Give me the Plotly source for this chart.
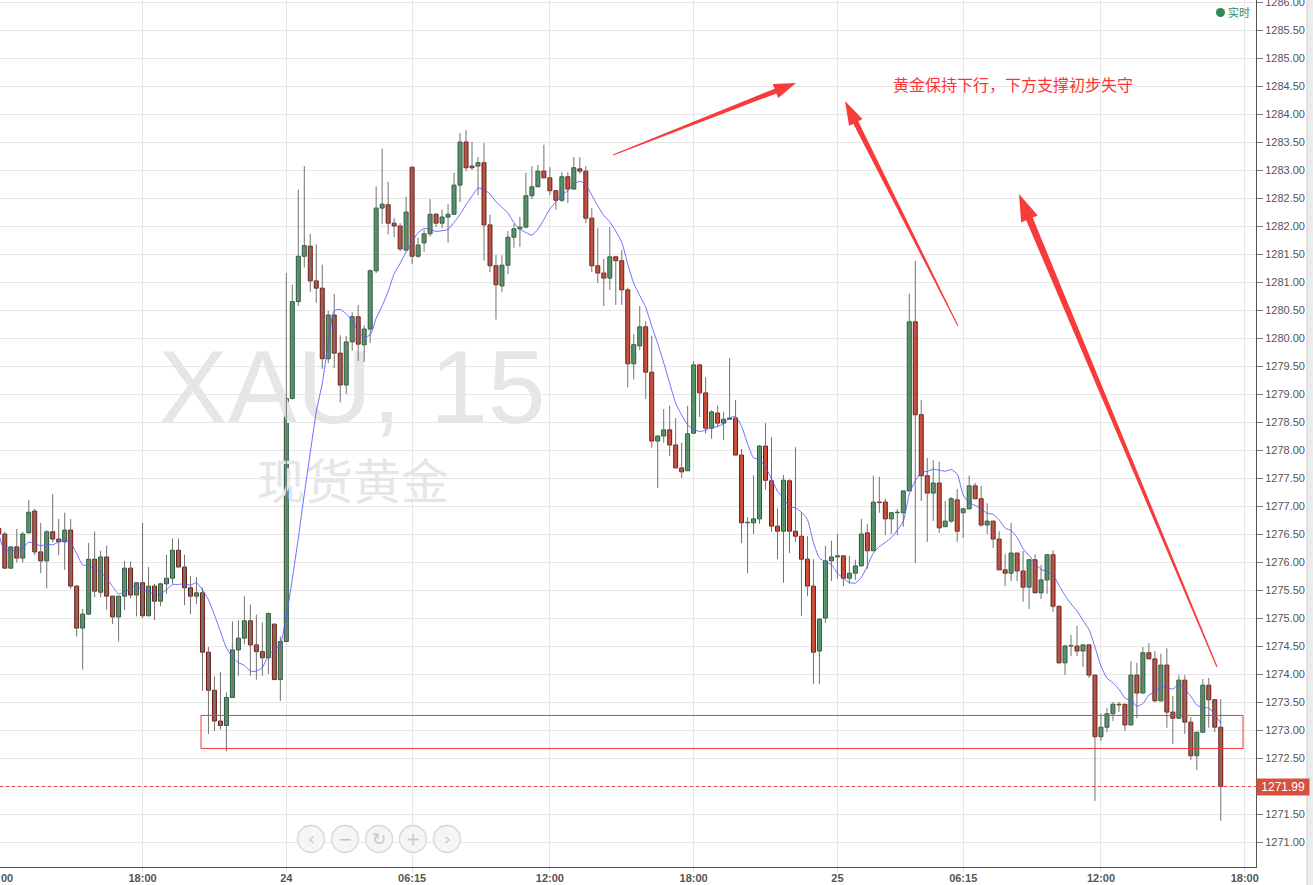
import plotly.graph_objects as go
import pandas as pd

# ---------------- data (15-min XAU candles, index = bar number) ----------------
opens = [
    1276.60, 1276.50, 1275.89, 1276.27, 1276.07, 1276.52, 1276.91, 1276.18, 1276.02, 1276.54,
    1276.41, 1276.36, 1276.57, 1275.57, 1274.82, 1275.07, 1276.05, 1275.46, 1276.09, 1275.39,
    1275.02, 1275.39, 1275.89, 1275.41, 1275.63, 1275.04, 1275.57, 1275.30, 1275.61, 1275.71,
    1276.21, 1275.91, 1275.54, 1275.39, 1275.45, 1274.39, 1273.71, 1273.16, 1273.08, 1273.58,
    1274.43, 1274.64, 1274.95, 1274.52, 1274.40, 1274.29, 1274.89, 1273.90, 1274.58, 1278.92,
    1280.65, 1281.46, 1281.64, 1281.02, 1280.89, 1279.63, 1280.41, 1279.73, 1279.16, 1279.93,
    1280.38, 1279.88, 1280.16, 1281.20, 1282.32, 1282.38, 1282.05, 1282.00, 1281.57, 1283.05,
    1281.46, 1281.70, 1281.86, 1282.21, 1282.05, 1282.16, 1282.21, 1282.73, 1283.50, 1283.07,
    1283.07, 1283.13, 1282.02, 1281.29, 1280.93, 1281.30, 1281.80, 1281.95, 1281.98, 1282.54,
    1282.70, 1282.98, 1282.86, 1282.63, 1282.46, 1282.88, 1282.66, 1283.02, 1282.98, 1282.14,
    1281.29, 1281.16, 1281.07, 1281.45, 1281.38, 1280.86, 1279.54, 1279.86, 1280.20, 1279.39,
    1278.16, 1278.25, 1278.36, 1278.09, 1277.68, 1277.63, 1278.30, 1279.52, 1279.02, 1278.39,
    1278.66, 1278.48, 1278.55, 1278.57, 1277.91, 1276.70, 1276.70, 1276.77, 1278.07, 1277.45,
    1276.64, 1276.55, 1277.45, 1276.55, 1276.46, 1276.05, 1275.57, 1274.41, 1275.00, 1276.02,
    1276.09, 1276.11, 1275.71, 1275.80, 1275.93, 1276.52, 1276.20, 1277.07, 1277.07, 1276.77,
    1276.88, 1276.88, 1277.27, 1280.29, 1278.63, 1277.54, 1277.23, 1277.41, 1276.63, 1276.73,
    1277.11, 1276.88, 1276.95, 1277.36, 1277.13, 1276.66, 1276.73, 1276.41, 1275.86, 1275.80,
    1276.16, 1275.84, 1275.55, 1276.04, 1275.45, 1275.68, 1276.13, 1275.21, 1274.20, 1274.50,
    1274.50, 1274.41, 1274.52, 1273.98, 1272.88, 1273.05, 1273.29, 1273.46, 1273.46, 1273.09,
    1273.98, 1273.66, 1274.38, 1274.27, 1273.52, 1274.16, 1273.32, 1273.21, 1273.89, 1273.14,
    1272.54, 1272.96, 1273.80, 1273.54, 1273.05,
]
highs = [
    1276.70, 1276.54, 1276.27, 1276.59, 1276.54, 1277.11, 1276.95, 1276.70, 1276.57, 1277.21,
    1276.77, 1276.88, 1276.77, 1275.59, 1275.16, 1276.34, 1276.54, 1276.20, 1276.29, 1275.39,
    1275.39, 1276.02, 1276.01, 1275.63, 1276.70, 1275.91, 1275.61, 1275.63, 1276.13, 1276.42,
    1276.42, 1276.13, 1275.75, 1275.73, 1275.54, 1274.48, 1273.96, 1274.04, 1273.67, 1274.94,
    1274.96, 1275.39, 1275.24, 1275.06, 1274.92, 1275.10, 1274.90, 1274.67, 1281.16, 1280.95,
    1282.65, 1283.07, 1281.86, 1281.67, 1281.31, 1280.49, 1280.79, 1280.05, 1280.04, 1280.46,
    1280.59, 1280.23, 1281.23, 1282.71, 1283.38, 1282.79, 1282.14, 1282.05, 1282.52, 1283.05,
    1281.79, 1281.93, 1282.48, 1282.23, 1282.29, 1282.39, 1282.95, 1283.66, 1283.71, 1283.50,
    1283.23, 1283.48, 1282.20, 1281.48, 1281.48, 1281.91, 1282.04, 1282.16, 1282.95, 1283.07,
    1283.09, 1283.45, 1283.05, 1282.63, 1282.96, 1282.96, 1283.23, 1283.23, 1283.07, 1282.32,
    1281.96, 1281.41, 1281.98, 1281.45, 1281.57, 1280.90, 1280.07, 1280.57, 1280.30, 1280.04,
    1278.25, 1278.73, 1278.79, 1278.57, 1278.13, 1278.79, 1279.59, 1279.52, 1279.30, 1278.71,
    1278.79, 1278.68, 1279.64, 1278.89, 1278.02, 1276.80, 1277.55, 1278.09, 1278.48, 1278.23,
    1276.96, 1277.55, 1277.48, 1278.05, 1276.88, 1276.46, 1276.05, 1275.00, 1276.29, 1276.38,
    1276.50, 1276.11, 1276.11, 1276.04, 1276.77, 1276.68, 1277.54, 1277.52, 1277.13, 1276.88,
    1276.95, 1277.27, 1280.79, 1281.38, 1278.89, 1277.86, 1277.82, 1277.79, 1277.09, 1277.16,
    1277.30, 1276.96, 1277.54, 1277.41, 1277.36, 1277.05, 1276.73, 1276.55, 1276.14, 1276.70,
    1276.16, 1276.20, 1276.04, 1276.14, 1275.95, 1276.13, 1276.21, 1275.21, 1274.52, 1274.70,
    1274.86, 1274.52, 1274.52, 1273.98, 1273.29, 1273.39, 1273.50, 1273.50, 1273.46, 1274.23,
    1274.20, 1274.48, 1274.55, 1274.41, 1274.36, 1274.46, 1273.61, 1273.98, 1273.98, 1273.23,
    1272.96, 1273.91, 1273.93, 1273.54, 1273.55,
]
lows = [
    1276.45, 1275.89, 1275.89, 1275.99, 1275.99, 1276.52, 1276.12, 1275.80, 1275.53, 1276.35,
    1276.12, 1275.86, 1275.52, 1274.67, 1274.08, 1275.05, 1275.37, 1275.37, 1275.15, 1274.89,
    1274.58, 1275.14, 1275.35, 1275.03, 1275.00, 1275.03, 1274.96, 1275.21, 1275.43, 1275.61,
    1275.91, 1275.23, 1275.07, 1275.25, 1273.70, 1272.93, 1272.98, 1273.01, 1272.62, 1273.58,
    1273.97, 1274.53, 1273.97, 1273.90, 1273.97, 1274.00, 1273.90, 1273.52, 1274.58, 1278.90,
    1280.57, 1281.26, 1280.82, 1280.63, 1279.45, 1279.55, 1279.46, 1278.85, 1279.00, 1279.77,
    1279.59, 1279.57, 1279.91, 1281.16, 1282.04, 1281.85, 1281.80, 1281.55, 1281.55, 1281.32,
    1281.43, 1281.54, 1281.81, 1281.98, 1281.96, 1281.70, 1282.21, 1282.43, 1282.98, 1283.00,
    1282.55, 1281.38, 1281.18, 1280.33, 1280.82, 1281.14, 1281.61, 1281.63, 1281.96, 1282.48,
    1282.70, 1282.86, 1282.55, 1282.29, 1282.43, 1282.41, 1282.66, 1282.93, 1282.05, 1281.18,
    1280.98, 1280.57, 1280.86, 1280.59, 1280.59, 1279.12, 1279.26, 1279.78, 1278.91, 1278.04,
    1277.32, 1278.13, 1277.89, 1277.68, 1277.50, 1277.63, 1278.30, 1278.59, 1278.29, 1278.20,
    1278.41, 1278.18, 1278.55, 1277.91, 1276.34, 1275.80, 1276.50, 1276.68, 1277.29, 1276.54,
    1276.05, 1275.63, 1276.16, 1276.36, 1275.04, 1275.39, 1273.82, 1273.82, 1274.91, 1275.66,
    1275.70, 1275.57, 1275.61, 1275.68, 1275.93, 1275.88, 1276.20, 1276.88, 1276.48, 1276.50,
    1276.48, 1276.63, 1277.27, 1275.98, 1277.09, 1276.36, 1276.73, 1276.52, 1276.63, 1276.70,
    1276.36, 1276.43, 1276.95, 1277.13, 1276.63, 1276.50, 1276.25, 1275.86, 1275.57, 1275.66,
    1275.66, 1275.29, 1275.16, 1275.45, 1275.34, 1275.43, 1275.11, 1274.18, 1273.98, 1274.32,
    1274.32, 1274.13, 1273.93, 1271.73, 1272.80, 1272.96, 1273.16, 1273.32, 1272.98, 1273.09,
    1273.21, 1273.66, 1274.27, 1273.50, 1273.52, 1273.04, 1272.75, 1273.21, 1272.93, 1272.46,
    1272.29, 1272.96, 1273.04, 1272.96, 1271.38,
]
closes = [
    1276.50, 1275.89, 1276.27, 1276.07, 1276.50, 1276.89, 1276.18, 1276.02, 1276.54, 1276.41,
    1276.36, 1276.57, 1275.57, 1274.82, 1275.07, 1276.05, 1275.48, 1276.09, 1275.39, 1275.02,
    1275.39, 1275.89, 1275.41, 1275.63, 1275.04, 1275.57, 1275.30, 1275.61, 1275.71, 1276.21,
    1275.91, 1275.54, 1275.39, 1275.45, 1274.39, 1273.71, 1273.16, 1273.08, 1273.58, 1274.43,
    1274.64, 1274.95, 1274.52, 1274.40, 1274.29, 1275.08, 1273.90, 1274.58, 1278.92, 1280.65,
    1281.46, 1281.65, 1281.02, 1280.89, 1279.63, 1280.41, 1279.73, 1279.16, 1279.93, 1280.38,
    1279.89, 1280.16, 1281.20, 1282.32, 1282.39, 1282.05, 1282.00, 1281.59, 1282.25, 1281.46,
    1281.66, 1281.86, 1282.21, 1282.05, 1282.16, 1282.21, 1282.73, 1283.50, 1283.04, 1283.04,
    1283.13, 1282.02, 1281.29, 1280.95, 1281.30, 1281.80, 1281.95, 1281.98, 1282.54, 1282.70,
    1282.98, 1282.86, 1282.63, 1282.46, 1282.88, 1282.66, 1283.04, 1282.98, 1282.14, 1281.29,
    1281.16, 1281.07, 1281.45, 1281.38, 1280.86, 1279.54, 1279.88, 1280.20, 1279.39, 1278.16,
    1278.25, 1278.36, 1278.09, 1277.68, 1277.61, 1278.29, 1279.52, 1279.02, 1278.39, 1278.68,
    1278.48, 1278.55, 1278.57, 1277.91, 1276.70, 1276.71, 1276.77, 1278.07, 1277.46, 1276.64,
    1276.55, 1277.46, 1276.55, 1276.46, 1276.05, 1275.57, 1274.39, 1274.98, 1276.02, 1276.09,
    1276.11, 1275.71, 1275.80, 1275.93, 1276.50, 1276.20, 1277.07, 1277.06, 1276.77, 1276.88,
    1276.89, 1277.27, 1280.29, 1278.63, 1277.54, 1277.23, 1277.41, 1276.61, 1276.73, 1277.13,
    1276.55, 1276.95, 1277.36, 1277.13, 1276.66, 1276.73, 1276.41, 1275.86, 1275.80, 1276.16,
    1275.84, 1275.55, 1276.04, 1275.45, 1275.68, 1276.13, 1275.21, 1274.20, 1274.50, 1274.51,
    1274.41, 1274.52, 1273.98, 1272.88, 1273.05, 1273.29, 1273.46, 1273.45, 1273.09, 1273.98,
    1273.66, 1274.38, 1274.27, 1273.52, 1274.16, 1273.32, 1273.21, 1273.89, 1273.14, 1272.54,
    1272.96, 1273.80, 1273.54, 1273.05, 1271.99,
]
bar_index = list(range(len(closes)))

tick_positions = [24, 48, 69, 92, 116, 140, 161, 184, 208]
tick_labels = ["18:00", "<b>24</b>", "06:15", "12:00", "18:00", "<b>25</b>", "06:15", "12:00", "18:00"]
first_label = "12:00"

last_price = 1271.99
support_box = [1272.67, 1273.26]
ma_period = 9
note_text = "黄金保持下行，下方支撑初步失守"

# ---------------- geometry helpers (plot area 1256 x 867 px) ----------------
W, H = 1313, 885
PW, PH = 1256, 867
PX_PER_BAR, BAR0_PX = 5.99, -1.2
Y_TOP, Y_BOT = 1271 + 842 / 56, 1271 + (842 - 867) / 56
X_LO, X_HI = (0 - BAR0_PX) / PX_PER_BAR, (PW - BAR0_PX) / PX_PER_BAR


def px_to_bar(px):
    return (px - BAR0_PX) / PX_PER_BAR


def px_to_price(py):
    return 1271 + (842 - py) / 56


def paper_x(px):
    return px / PW


def paper_y(py):
    return 1 - py / PH


ma = pd.Series(closes).rolling(ma_period, min_periods=1).mean().tolist()

fig = go.Figure()

# watermark (behind everything)
fig.add_trace(go.Scatter(
    x=[px_to_bar(352)], y=[px_to_price(397)], mode="text", text=["XAU, 15"],
    textfont=dict(size=104, color="#e6e6e6", family="Liberation Sans, Arial"),
    hoverinfo="skip", cliponaxis=False, showlegend=False))
fig.add_trace(go.Scatter(
    x=[px_to_bar(353)], y=[px_to_price(487)], mode="text", text=["现货黄金"],
    textfont=dict(size=48, color="#e6e6e6", family="Noto Sans CJK SC"),
    hoverinfo="skip", cliponaxis=False, showlegend=False))

# wicks
wx, wy = [], []
for i, hi, lo in zip(bar_index, highs, lows):
    wx += [i, i, None]
    wy += [lo, hi, None]
fig.add_trace(go.Scatter(x=wx, y=wy, mode="lines", line=dict(color="#727272", width=1),
                         hoverinfo="skip", showlegend=False))

# bodies
up = [i for i in bar_index if closes[i] >= opens[i]]
dn = [i for i in bar_index if closes[i] < opens[i]]
for sel, fill, edge in [(up, "#5e9e72", "#1d5a32"), (dn, "#d24b37", "#6e1a10")]:
    fig.add_trace(go.Bar(
        x=sel,
        y=[max(abs(closes[i] - opens[i]), 0.008) for i in sel],
        base=[min(closes[i], opens[i]) for i in sel],
        width=0.66,
        marker=dict(color=fill, line=dict(color=edge, width=1)),
        hoverinfo="skip", showlegend=False))

# moving average
fig.add_trace(go.Scatter(x=bar_index, y=ma, mode="lines",
                         line=dict(color="rgba(85,85,255,0.85)", width=1, shape="spline", smoothing=0.6),
                         hoverinfo="skip", showlegend=False))

shapes = []
# support box
shapes.append(dict(type="rect", xref="x", yref="y", x0=px_to_bar(201), x1=px_to_bar(1243),
                   y0=support_box[0], y1=support_box[1], line=dict(color="#f03a3a", width=1),
                   fillcolor="rgba(0,0,0,0)", layer="above"))
# last price dotted line
shapes.append(dict(type="line", xref="paper", yref="y", x0=0, x1=1, y0=last_price, y1=last_price,
                   line=dict(color="#e0443a", width=1, dash="dot"), layer="above"))


def arrow_path(tail, tip, w0, w1, wh, hl):
    import math
    dx, dy = tip[0] - tail[0], tip[1] - tail[1]
    ln = math.hypot(dx, dy)
    ux, uy = dx / ln, dy / ln
    nx, ny = -uy, ux
    bx, by = tip[0] - ux * hl, tip[1] - uy * hl
    pts = [
        (tail[0] + nx * w0 / 2, tail[1] + ny * w0 / 2),
        (bx + nx * w1 / 2, by + ny * w1 / 2),
        (bx + nx * wh / 2, by + ny * wh / 2),
        tip,
        (bx - nx * wh / 2, by - ny * wh / 2),
        (bx - nx * w1 / 2, by - ny * w1 / 2),
        (tail[0] - nx * w0 / 2, tail[1] - ny * w0 / 2),
    ]
    return "M " + " L ".join(f"{paper_x(p[0]):.5f},{paper_y(p[1]):.5f}" for p in pts) + " Z"


for tail, tip, w0, w1, wh, hl in [
    ((613, 155), (796, 83), 1.0, 5.0, 15, 22),
    ((958, 326), (845, 101), 1.0, 5.5, 15, 24),
    ((1217, 667), (1019, 194), 1.2, 7.0, 18, 27),
]:
    shapes.append(dict(type="path", xref="paper", yref="paper", path=arrow_path(tail, tip, w0, w1, wh, hl),
                       fillcolor="#f73b3b", line=dict(width=0), layer="above"))

# nav buttons
nav_cx = [311, 345, 379, 413, 447]
nav_icons = ["&#8249;", "&#8722;", "&#8635;", "+", "&#8250;"]
for cx in nav_cx:
    r = 13.5
    shapes.append(dict(type="circle", xref="paper", yref="paper",
                       x0=paper_x(cx - r), x1=paper_x(cx + r), y0=paper_y(839 + r), y1=paper_y(839 - r),
                       fillcolor="#f5f5f5", line=dict(color="#d6d6d6", width=1.3), layer="above"))
# legend dot
shapes.append(dict(type="circle", xref="paper", yref="paper",
                   x0=paper_x(1216), x1=paper_x(1225), y0=paper_y(17), y1=paper_y(8),
                   fillcolor="#2f8c57", line=dict(width=0), layer="above"))
# right-side scrollbar strip
shapes.append(dict(type="rect", xref="paper", yref="paper", x0=paper_x(1307), x1=paper_x(1314),
                   y0=paper_y(886), y1=paper_y(-1), fillcolor="#ececec",
                   line=dict(color="#cfcfcf", width=1), layer="above"))

annotations = []
annotations.append(dict(xref="paper", yref="paper", x=paper_x(1013), y=paper_y(84), text=note_text,
                        showarrow=False, font=dict(size=16, color="#ff3333", family="Noto Sans CJK SC"),
                        xanchor="center", yanchor="middle"))
for cx, ic in zip(nav_cx, nav_icons):
    annotations.append(dict(xref="paper", yref="paper", x=paper_x(cx), y=paper_y(838.5), text=ic,
                            showarrow=False, font=dict(size=17, color="#c6c6c6", family="DejaVu Sans"),
                            xanchor="center", yanchor="middle"))
annotations.append(dict(xref="paper", yref="paper", x=paper_x(1239), y=paper_y(12), text="实时",
                        showarrow=False, font=dict(size=11, color="#2f8c57", family="Noto Sans CJK SC"),
                        xanchor="center", yanchor="middle"))
annotations.append(dict(xref="paper", yref="y", x=1.0, y=last_price, text=f" {last_price:.2f} ",
                        showarrow=False, font=dict(size=12, color="white", family="Liberation Sans, Arial"),
                        bgcolor="#d6513d", borderpad=1, xanchor="left", yanchor="middle"))
annotations.append(dict(xref="paper", yref="paper", x=paper_x(BAR0_PX), y=paper_y(878), text=f"<b>{first_label}</b>",
                        showarrow=False, font=dict(size=11, color="#555555", family="Liberation Sans, Arial"),
                        xanchor="center", yanchor="middle"))

fig.update_layout(
    template="none",
    width=W, height=H,
    margin=dict(l=0, r=W - PW, t=0, b=H - PH, pad=0),
    paper_bgcolor="white", plot_bgcolor="white",
    barmode="overlay", showlegend=False,
    font=dict(family="Liberation Sans, Arial", size=11, color="#555555"),
    shapes=shapes, annotations=annotations,
    xaxis=dict(range=[X_LO, X_HI], tickmode="array", tickvals=tick_positions,
               ticktext=["<b>" + t + "</b>" if not t.startswith("<b>") else t for t in tick_labels],
               showgrid=True, gridcolor="#e6e6e6", gridwidth=1, zeroline=False,
               showline=True, linecolor="#555555", linewidth=1,
               ticks="outside", ticklen=4, tickcolor="#dddddd", ticklabelstandoff=-3,
               tickfont=dict(size=11, color="#555555"), automargin=False, fixedrange=True),
    yaxis=dict(range=[Y_BOT, Y_TOP], side="right", tickmode="linear", tick0=1271, dtick=0.5,
               tickformat=".2f", showgrid=True, gridcolor="#e6e6e6", gridwidth=1, zeroline=False,
               showline=True, linecolor="#555555", linewidth=1, ticklabeloverflow="allow",
               ticks="outside", ticklen=6, tickcolor="#777777",
               tickfont=dict(size=11, color="#555555"), automargin=False, fixedrange=True),
)

fig.write_html("out.html", config={"displayModeBar": False},
               post_script="document.body.style.margin='0';document.body.style.overflow='hidden';")
